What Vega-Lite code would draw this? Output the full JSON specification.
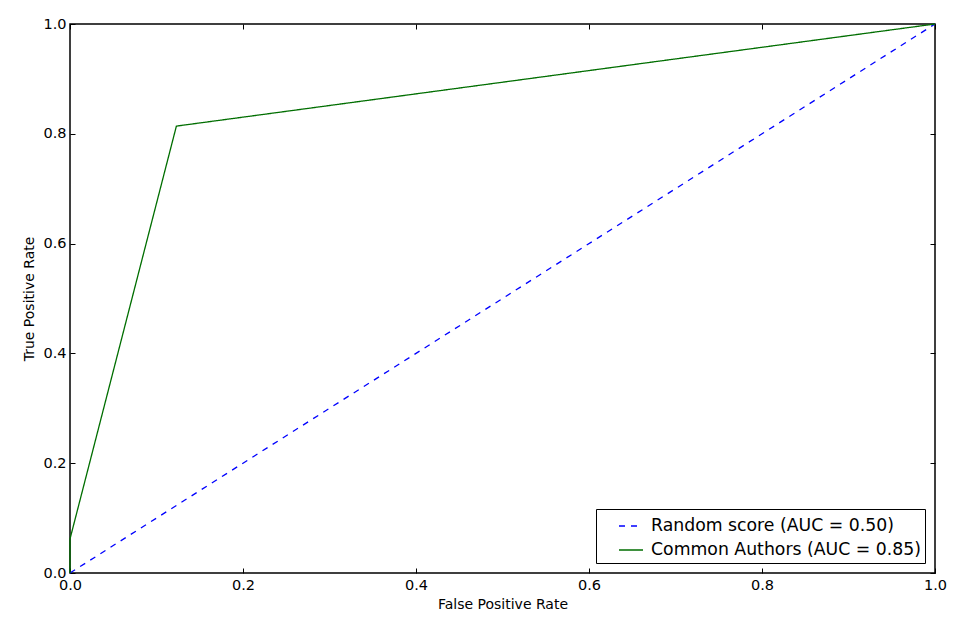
{
  "$schema": "https://vega.github.io/schema/vega-lite/v6.json",
  "width": 865,
  "height": 549,
  "autosize": {"type": "none"},
  "padding": {"left": 70, "top": 24, "right": 23, "bottom": 47},
  "background": "white",
  "config": {
    "font": "DejaVu Sans",
    "view": {"stroke": "black", "strokeWidth": 1.5},
    "axis": {
      "domain": false,
      "grid": false,
      "ticks": true,
      "tickSize": -5,
      "tickColor": "black",
      "tickWidth": 1,
      "labelColor": "black",
      "labelFont": "DejaVu Sans",
      "labelFontSize": 14.5,
      "labelFlush": false,
      "labelOverlap": false,
      "titleColor": "black",
      "titleFont": "DejaVu Sans",
      "titleFontSize": 14,
      "titleFontWeight": "normal"
    },
    "legend": {
      "labelFont": "DejaVu Sans",
      "labelFontSize": 17.3,
      "labelColor": "black",
      "labelLimit": 0
    }
  },
  "data": {
    "values": [
      {"series": "Random score (AUC = 0.50)", "fpr": 0, "tpr": 0, "step": 0},
      {"series": "Random score (AUC = 0.50)", "fpr": 1, "tpr": 1, "step": 1},
      {"series": "Common Authors (AUC = 0.85)", "fpr": 0, "tpr": 0, "step": 0},
      {"series": "Common Authors (AUC = 0.85)", "fpr": 0, "tpr": 0.062, "step": 1},
      {"series": "Common Authors (AUC = 0.85)", "fpr": 0.123, "tpr": 0.814, "step": 2},
      {"series": "Common Authors (AUC = 0.85)", "fpr": 1, "tpr": 1, "step": 3}
    ]
  },
  "layer": [
    {
      "mark": {"type": "line", "strokeWidth": 1.3, "clip": false},
      "encoding": {
        "x": {
          "field": "fpr", "type": "quantitative",
          "scale": {"domain": [0, 1], "nice": false, "zero": false},
          "axis": {"orient": "bottom", "title": "False Positive Rate", "values": [0, 0.2, 0.4, 0.6, 0.8, 1.0], "format": ".1f", "labelPadding": 10, "titlePadding": 6}
        },
        "y": {
          "field": "tpr", "type": "quantitative",
          "scale": {"domain": [0, 1], "nice": false, "zero": false},
          "axis": {"orient": "left", "title": "True Positive Rate", "values": [0, 0.2, 0.4, 0.6, 0.8, 1.0], "format": ".1f", "labelPadding": 9, "titlePadding": 6}
        },
        "color": {
          "field": "series", "type": "nominal",
          "scale": {"domain": ["Random score (AUC = 0.50)", "Common Authors (AUC = 0.85)"], "range": ["#0000ff", "#006e00"]},
          "legend": {
            "title": null,
            "orient": "none",
            "legendX": 526,
            "legendY": 485,
            "symbolType": "stroke",
            "symbolSize": 576,
            "symbolStrokeWidth": 1.5,
            "strokeColor": "black",
            "fillColor": "white",
            "padding": 4,
            "symbolOffset": 18,
            "labelOffset": 7,
            "labelLimit": 0,
            "rowPadding": 2
          }
        },
        "strokeDash": {
          "field": "series", "type": "nominal",
          "scale": {"domain": ["Random score (AUC = 0.50)", "Common Authors (AUC = 0.85)"], "range": [[6, 6], [1, 0]]},
          "legend": {
            "title": null,
            "orient": "none",
            "legendX": 526,
            "legendY": 485,
            "symbolType": "stroke",
            "symbolSize": 576,
            "symbolStrokeWidth": 1.5,
            "strokeColor": "black",
            "fillColor": "white",
            "padding": 4,
            "symbolOffset": 18,
            "labelOffset": 7,
            "labelLimit": 0,
            "rowPadding": 2
          }
        },
        "order": {"field": "step", "type": "quantitative"}
      }
    },
    {
      "mark": {"type": "point", "opacity": 0},
      "encoding": {
        "x": {
          "field": "fpr", "type": "quantitative",
          "scale": {"domain": [0, 1], "nice": false, "zero": false},
          "axis": {"orient": "top", "title": null, "labels": false, "values": [0, 0.2, 0.4, 0.6, 0.8, 1.0]}
        },
        "y": {
          "field": "tpr", "type": "quantitative",
          "scale": {"domain": [0, 1], "nice": false, "zero": false},
          "axis": {"orient": "right", "title": null, "labels": false, "values": [0, 0.2, 0.4, 0.6, 0.8, 1.0]}
        }
      }
    }
  ],
  "resolve": {"axis": {"x": "independent", "y": "independent"}}
}
